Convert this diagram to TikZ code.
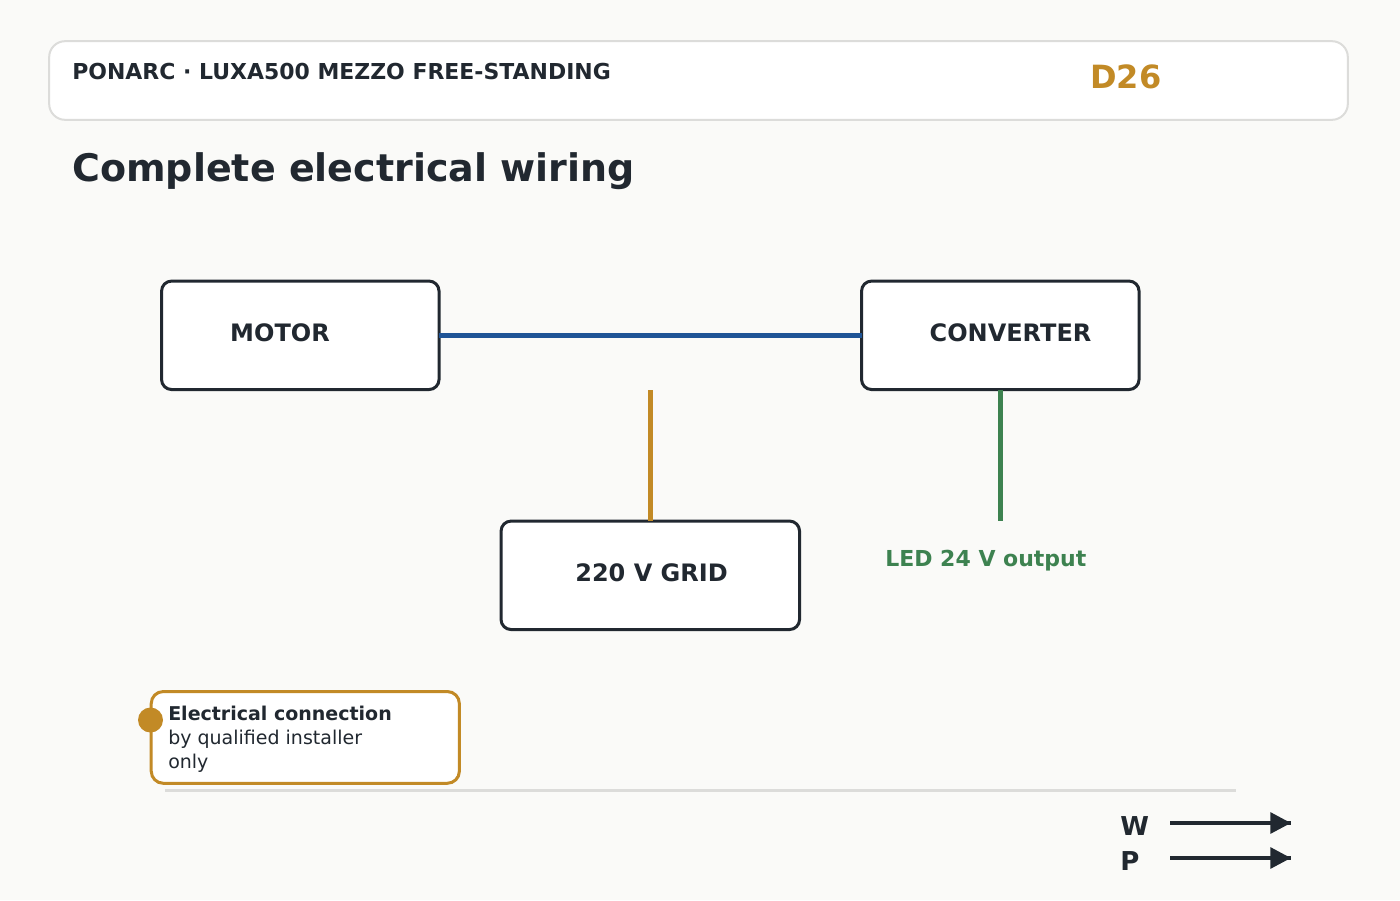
\documentclass[tikz,border=0pt]{standalone}
\usepackage{fontspec}
\setmainfont{DejaVu Sans}
\usetikzlibrary{arrows.meta}
\definecolor{bgc}{HTML}{FAFAF8}
\definecolor{ink}{HTML}{212830}
\definecolor{rulec}{HTML}{DCDCDA}
\definecolor{gold}{HTML}{C28A26}
\definecolor{wireblue}{HTML}{1F5496}
\definecolor{wiregreen}{HTML}{3D8250}
\tikzset{
  x=0.75pt,y=-0.75pt,
  boxnode/.style={draw=ink,fill=white,line width=2.25pt,rounded corners=7.5pt,inner sep=0pt,outer sep=0pt},
  boxlabel/.style={anchor=base,text=ink,font=\bfseries\fontsize{18pt}{18pt}\selectfont,inner sep=0pt},
  headtext/.style={anchor=base west,inner sep=0pt,font=\bfseries},
  wire/.style={line width=3.75pt},
  dimarrow/.style={draw=ink,line width=3pt,-{Triangle[length=15.5pt,width=15.5pt]},postaction={draw=ink,arrows=-}},
  dimlabel/.style={anchor=base west,inner sep=0pt,text=ink,font=\bfseries\fontsize{19.5pt}{19.5pt}\selectfont},
  notetext/.style={anchor=base west,inner sep=0pt,text=ink}
}
\begin{document}
\begin{tikzpicture}
\useasboundingbox (0,0) rectangle (1400,900);
\fill[bgc] (0,0) rectangle (1400,900);
% header
\node[draw=rulec,fill=white,line width=1.5pt,rounded corners=12pt,minimum width=974pt,minimum height=59pt,inner sep=0pt,outer sep=0pt] (header) at (698.5,80.5) {};
\node[headtext,text=ink,font=\bfseries\fontsize{16.47pt}{16.47pt}\selectfont] (brand) at (72,79) {PONARC · LUXA500 MEZZO FREE-STANDING};
\node[headtext,text=gold,font=\bfseries\fontsize{24pt}{24pt}\selectfont] (code) at (1090,88) {D26};
\node[headtext,text=ink,font=\bfseries\fontsize{28.5pt}{28.5pt}\selectfont] (title) at (72,181) {Complete electrical wiring};
% boxes
\node[boxnode,minimum width=208.1pt,minimum height=81.35pt] (motor) at (300.3,335.3) {};
\node[boxnode,minimum width=208.1pt,minimum height=81.35pt] (conv) at (1000.3,335.3) {};
\node[boxnode,minimum width=223.85pt,minimum height=81.35pt] (grid) at (650.3,575.3) {};
\node[boxlabel] (motorl) at (280,341) {MOTOR};
\node[boxlabel] (convl) at (1010.5,341) {CONVERTER};
\node[boxlabel] (gridl) at (651.5,581) {220 V GRID};
% wires
\coordinate (gridtop) at (650.5,390);
\coordinate (ledend) at (1000.5,521);
\draw[wire,wireblue] (motor.east |- 0,335.5) -- (conv.west |- 0,335.5);
\draw[wire,gold] (gridtop) -- (gridtop |- grid.north);
\draw[wire,wiregreen] (ledend |- conv.south) -- (ledend);
\node[anchor=base west,inner sep=0pt,text=wiregreen,font=\bfseries\fontsize{16.5pt}{16.5pt}\selectfont] (ledl) at (885,566) {LED 24 V output};
% note
\node[draw=gold,fill=white,line width=2.25pt,rounded corners=9pt,minimum width=231.1pt,minimum height=68.8pt,inner sep=0pt,outer sep=0pt] (note) at (305.3,737.4) {};
\node[circle,fill=gold,minimum size=18.75pt,inner sep=0pt] (dot) at (150.5,720) {};
\node[notetext,font=\bfseries\fontsize{14.25pt}{14.25pt}\selectfont] (n1) at (168,720) {Electrical connection};
\node[notetext,font=\fontsize{14.25pt}{14.25pt}\selectfont] (n2) at (168,744) {by qualified installer};
\node[notetext,font=\fontsize{14.25pt}{14.25pt}\selectfont] (n3) at (168,768) {only};
% baseline rule
\coordinate (ruleL) at (165,790.5);
\coordinate (ruleR) at (1236,790.5);
\draw[rulec,line width=2.25pt] (ruleL) -- (ruleR);
% axis labels
\node[dimlabel] (w) at (1120,835) {W};
\node[dimlabel] (p) at (1120,870) {P};
\coordinate (wa) at (1170,823);
\coordinate (wb) at (1291,823);
\coordinate (pa) at (1170,858);
\coordinate (pb) at (1291,858);
\draw[dimarrow] (wa) -- (wb);
\draw[dimarrow] (pa) -- (pb);
\end{tikzpicture}
\end{document}
